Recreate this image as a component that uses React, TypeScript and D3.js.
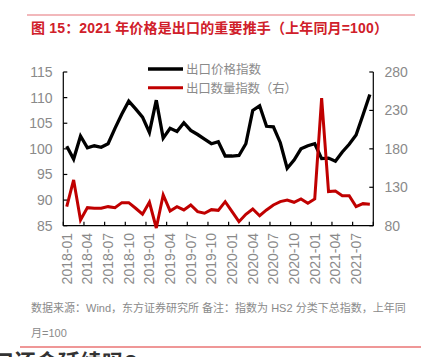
import React from "react";
import * as d3 from "d3";

const months: string[] = [];
for (let y = 2018; y <= 2021; y++) {
  for (let m = 1; m <= 12; m++) {
    if (y === 2021 && m > 9) break;
    months.push(`${y}-${String(m).padStart(2, "0")}`);
  }
}

const priceIndex = [
  100.5, 98.0, 102.5, 100.2, 100.6, 100.3, 101.0, 104.0, 106.8, 109.3,
  107.8, 106.2, 103.2, 109.5, 102.1, 104.0, 103.4, 105.1, 103.6, 102.8,
  101.9, 101.0, 101.4, 98.6, 98.6, 98.7, 101.0, 107.5, 108.4, 104.4,
  104.3, 101.2, 96.2, 97.8, 100.0, 100.6, 101.0, 98.1, 98.2, 97.6,
  99.4, 100.9, 102.7, 106.6, 110.6,
];

const volumeIndex = [
  104.8, 139.6, 87.4, 103.5, 102.7, 102.7, 104.8, 103.5, 110.0, 110.0,
  102.7, 94.9, 110.5, 77.0, 120.0, 99.2, 104.8, 100.5, 107.0, 98.3,
  96.2, 100.9, 100.0, 111.3, 98.3, 85.2, 94.9, 101.8, 93.0, 100.5,
  107.0, 111.3, 113.5, 110.5, 114.8, 109.2, 114.8, 246.0, 124.4, 125.2,
  119.1, 119.0, 104.8, 108.7, 108.0,
];

const leftTicks = [85, 90, 95, 100, 105, 110, 115];
const rightTicks = [80, 130, 180, 230, 280];
const labelMonths = months.filter((_, i) => i % 3 === 0);

const titleText = "图 15：2021 年价格是出口的重要推手（上年同月=100）";
const legendLabels = ["出口价格指数", "出口数量指数（右）"];
const noteLine1 = "数据来源：Wind，东方证券研究所  备注：指数为 HS2 分类下总指数，上年同";
const noteLine2 = "月=100";

const FONT = "'Liberation Sans', Arial, 'Noto Sans CJK SC', sans-serif";

export default function App() {
  const left = 63.3;
  const right = 373.3;
  const top = 72;
  const bottom = 225.7;

  const x = d3.scaleBand<string>().domain(months).range([left, right]).padding(0);
  const yL = d3.scaleLinear().domain([85, 115]).range([bottom, top]);
  const yR = d3.scaleLinear().domain([80, 280]).range([bottom, top]);
  const cx = (m: string) => (x(m) as number) + x.bandwidth() / 2;

  const priceLine = d3
    .line<number>()
    .x((_, i) => cx(months[i]))
    .y((d) => yL(d));
  const volLine = d3
    .line<number>()
    .x((_, i) => cx(months[i]))
    .y((d) => yR(d));

  const gridTickX = months
    .map((m, i) => ({ m, i }))
    .filter((d) => d.i % 3 === 0)
    .map((d) => x(d.m) as number)
    .concat([right]);

  const red = "#c00000";
  const grey = "#8a8a8a";

  return (
    <svg
      width={432}
      height={357}
      style={{ position: "absolute", left: 0, top: 0, background: "#fff" }}
      fontFamily={FONT}
    >
      <rect x={0} y={0} width={432} height={357} fill="#fff" />
      {/* title */}
      <line x1={27} x2={415} y1={15} y2={15} stroke="#eea0a4" strokeWidth={1.5} />
      <text x={31} y={33} fontSize={14} fontWeight="bold" fill="#d0202a" textLength={357} lengthAdjust="spacing">
        {titleText}
      </text>

      {/* axes */}
      <line x1={left} x2={left} y1={top} y2={bottom} stroke="#000" strokeWidth={1.2} />
      <line x1={right} x2={right} y1={top} y2={bottom} stroke="#000" strokeWidth={1.2} />
      <line x1={left} x2={right} y1={bottom} y2={bottom} stroke="#000" strokeWidth={1.2} />

      {leftTicks.map((t) => (
        <g key={"l" + t}>
          <line x1={left} x2={left + 4} y1={yL(t)} y2={yL(t)} stroke="#000" strokeWidth={1.2} />
          <text x={52.5} y={yL(t) + 5} fontSize={14} fill={grey} textAnchor="end">
            {t}
          </text>
        </g>
      ))}
      {rightTicks.map((t) => (
        <g key={"r" + t}>
          <line x1={right - 4} x2={right} y1={yR(t)} y2={yR(t)} stroke="#000" strokeWidth={1.2} />
          <text x={384.5} y={yR(t) + 5} fontSize={14} fill={grey} textAnchor="start">
            {t}
          </text>
        </g>
      ))}
      {gridTickX.map((tx, i) => (
        <line key={"xt" + i} x1={tx} x2={tx} y1={bottom} y2={bottom - 4} stroke="#000" strokeWidth={1.2} />
      ))}
      {labelMonths.map((m) => (
        <text
          key={"xl" + m}
          transform={`translate(${cx(m) + 5},${233}) rotate(-90)`}
          fontSize={14}
          fill={grey}
          textAnchor="end"
        >
          {m}
        </text>
      ))}

      {/* series */}
      <path d={priceLine(priceIndex) || ""} fill="none" stroke="#000" strokeWidth={3.3} strokeLinejoin="miter" />
      <path d={volLine(volumeIndex) || ""} fill="none" stroke={red} strokeWidth={3} strokeLinejoin="miter" />

      {/* legend */}
      <line x1={148} x2={183} y1={69} y2={69} stroke="#000" strokeWidth={3.3} />
      <text x={186} y={74} fontSize={12.5} fill={grey}>
        {legendLabels[0]}
      </text>
      <line x1={148} x2={183} y1={87.7} y2={87.7} stroke={red} strokeWidth={3} />
      <text x={186} y={92.5} fontSize={12.5} fill={grey} textLength={111} lengthAdjust="spacing">
        {legendLabels[1]}
      </text>

      {/* notes */}
      <text x={31} y={312} fontSize={11} fill={grey}>
        {noteLine1}
      </text>
      <text x={31} y={337} fontSize={11} fill={grey}>
        {noteLine2}
      </text>
      <line x1={20} x2={421} y1={347} y2={347} stroke="#e03030" strokeWidth={1.2} />
      <text x={-8} y={370} fontSize={22} fontWeight="bold" fill="#333">
        口还会延续吗?
      </text>
    </svg>
  );
}
